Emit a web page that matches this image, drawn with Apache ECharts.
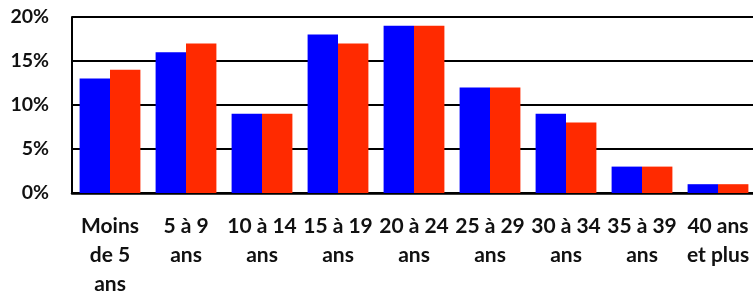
<!DOCTYPE html>
<html>
<head>
<meta charset="utf-8">
<script src="https://cdn.jsdelivr.net/npm/echarts@6/dist/echarts.min.js"></script>
<style>
  html, body { margin: 0; padding: 0; background: #ffffff; }
  #chart { width: 753px; height: 297px; }
</style>
</head>
<body>
<div id="chart"></div>
<script>
// tranches d'âge
const categories = [
  "Moins\nde 5\nans", "5 à 9\nans", "10 à 14\nans", "15 à 19\nans", "20 à 24\nans",
  "25 à 29\nans", "30 à 34\nans", "35 à 39\nans", "40 ans\net plus"
];
const blueValues = [13, 16, 9, 18, 19, 12, 9, 3, 1];
const redValues = [14, 17, 9, 17, 19, 12, 8, 3, 1];
const yTicks = [0, 5, 10, 15, 20];

const chart = echarts.init(document.getElementById("chart"));
chart.setOption({
  animation: false,
  grid: {
    left: 72,
    top: 17,
    width: 684,
    height: 176,
    outerBoundsMode: "none",
  },
  xAxis: {
    type: "category",
    data: categories,
    axisTick: { show: false },
    axisLine: {
      show: true,
      lineStyle: { color: "#000000", width: 2.5 },
    },
    axisLabel: {
      interval: 0,
      margin: 19,
      color: "#111111",
      fontFamily: "Lato",
      fontWeight: "bold",
      fontSize: 21,
      lineHeight: 29,
    },
  },
  yAxis: {
    type: "value",
    min: yTicks[0],
    max: yTicks[yTicks.length - 1],
    interval: 5,
    axisLine: {
      show: true,
      lineStyle: { color: "#000000", width: 2 },
    },
    axisTick: { show: false },
    splitLine: {
      show: true,
      lineStyle: { color: "#000000", width: 2 },
    },
    axisLabel: {
      margin: 23,
      color: "#111111",
      fontFamily: "Lato",
      fontWeight: "bold",
      fontSize: 19.5,
      formatter: "{value}%",
    },
  },
  series: [
    {
      name: "bleu",
      type: "bar",
      data: blueValues,
      barGap: "0%",
      barCategoryGap: "20%",
      itemStyle: { color: "#0000FF" },
    },
    {
      name: "rouge",
      type: "bar",
      data: redValues,
      itemStyle: { color: "#FF2A00" },
    },
  ],
});
</script>
</body>
</html>
